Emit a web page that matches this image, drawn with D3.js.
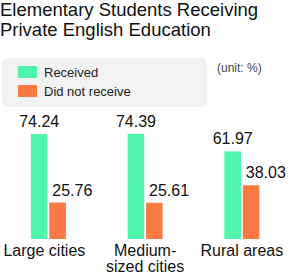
<!DOCTYPE html>
<html><head><meta charset="utf-8">
<script src="https://cdn.jsdelivr.net/npm/d3@7"></script>
<style>
html,body{margin:0;padding:0;background:#fff;}
svg{display:block;font-family:"Liberation Sans",Arial,Helvetica,sans-serif;}
</style></head>
<body>
<script>
const titleLines = ["Elementary Students Receiving", "Private English Education"];
const categories = [["Large cities"], ["Medium-", "sized cities"], ["Rural areas"]];
const seriesNames = ["Received", "Did not receive"];
const received = [74.24, 74.39, 61.97];
const notReceived = [25.76, 25.61, 38.03];
const unitLabel = "(unit: %)";
const colors = ["#4ff5aa", "#f97a42"];

const W = 290, H = 276;
const svg = d3.select("body").append("svg").attr("width", W).attr("height", H);

svg.selectAll("text.title").data(titleLines).join("text")
  .attr("class", "title").attr("x", 0).attr("y", (d, i) => 16 + i * 20)
  .attr("font-size", 18.5).attr("fill", "#111").text(d => d);

// legend
svg.append("rect").attr("x", 2).attr("y", 58).attr("width", 205).attr("height", 49)
  .attr("rx", 6).attr("fill", "#f2f2f2");
const lg = svg.selectAll("g.lg").data(seriesNames).join("g").attr("class", "lg")
  .attr("transform", (d, i) => `translate(18,${66 + i * 19})`);
lg.append("rect").attr("width", 19).attr("height", 12).attr("fill", (d, i) => colors[i]);
lg.append("text").attr("x", 26).attr("y", 11).attr("font-size", 13).attr("fill", "#222").text(d => d);

svg.append("text").attr("x", 217).attr("y", 72).attr("font-size", 12).attr("fill", "#444").text(unitLabel);

const x = d3.scaleBand().domain(d3.range(categories.length)).range([0, 290.25]);
const xs = d3.scaleBand().domain([0, 1]).range([-17.5, 17.5]).paddingInner(0.1);
const y = d3.scaleLinear().domain([0, 100]).range([239, 97.6]);

const data = categories.map((c, i) => ({i, vals: [received[i], notReceived[i]]}));
const g = svg.selectAll("g.grp").data(data).join("g").attr("class", "grp")
  .attr("transform", d => `translate(${x(d.i) + x.bandwidth() / 2},0)`);

g.selectAll("rect").data(d => d.vals).join("rect")
  .attr("x", (v, j) => xs(j)).attr("width", xs.bandwidth())
  .attr("y", v => y(v)).attr("height", v => y(0) - y(v))
  .attr("fill", (v, j) => colors[j]);

g.selectAll("text.val").data(d => d.vals).join("text").attr("class", "val")
  .attr("x", (v, j) => j === 0 ? xs(j) + xs.bandwidth() / 2 : xs(j) + 3)
  .attr("text-anchor", (v, j) => j === 0 ? "middle" : "start")
  .attr("y", v => y(v) - 7)
  .attr("font-size", 16).attr("fill", "#111")
  .text(v => v.toFixed(2));

g.each(function(d) {
  d3.select(this).selectAll("text.cat").data(categories[d.i]).join("text").attr("class", "cat")
    .attr("x", d.i === 0 ? -4 : 0).attr("y", (t, k) => 256 + k * 16)
    .attr("text-anchor", "middle").attr("font-size", 16).attr("fill", "#111").text(t => t);
});
</script>
</body></html>
